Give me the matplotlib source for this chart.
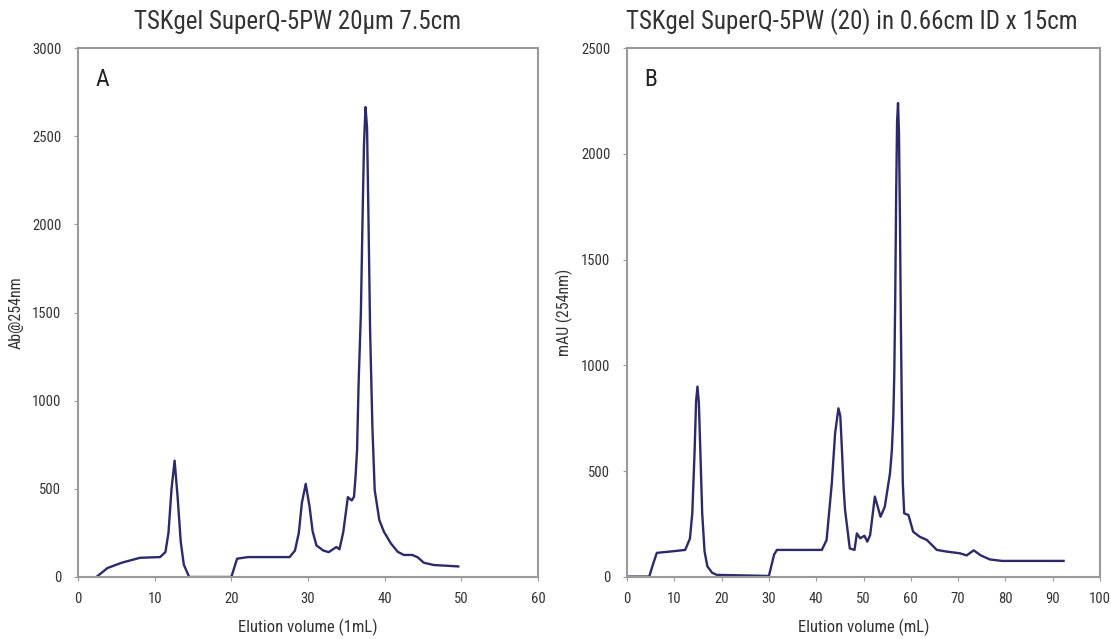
import matplotlib
matplotlib.use("Agg")
import matplotlib.pyplot as plt
from matplotlib import font_manager

# ---------------- data ----------------
a_x = [2.4, 3.85, 5.7, 8.1, 10.7, 11.4, 11.8, 12.2, 12.6, 13.0, 13.4, 13.8, 14.5, 20.0,
       20.75, 22.2, 27.6, 28.3, 28.8, 29.2, 29.7, 30.2, 30.6, 31.1, 32.0, 32.7, 33.7, 34.1,
       34.6, 35.2, 35.7, 36.0, 36.2, 36.4, 36.6, 36.9, 37.1, 37.3, 37.5, 37.7, 37.9,
       38.1, 38.4, 38.7, 39.3, 39.9, 40.8, 41.7, 42.5, 43.6, 44.3, 45.1, 46.4, 49.6]
a_y = [0, 51, 81, 109, 113, 141, 250, 500, 660, 450, 200, 70, 0, 0,
       104, 113, 113, 150, 250, 420, 528, 400, 260, 179, 150, 141, 170, 157,
       255, 453, 434, 455, 568, 720, 1098, 1500, 2000, 2450, 2665, 2550, 2000,
       1400, 850, 493, 323, 257, 191, 143, 125, 125, 112, 81, 68, 60]

b_x = [0, 4.7, 5.5, 6.3, 9.0, 12.3, 13.3, 13.8, 14.3, 14.6, 14.9, 15.2, 15.5, 15.9,
       16.4, 17.0, 18.0, 19.0, 30.0,
       31.1, 31.7, 41.2, 42.2, 43.3, 44.0, 44.7, 45.1, 45.4, 45.8, 46.1, 47.1, 48.1,
       48.6, 49.3, 50.2, 50.8, 51.4, 52.4, 53.6, 54.5, 55.6, 56.0, 56.3, 56.5, 56.7,
       56.9, 57.1, 57.3, 57.5, 57.7, 57.9, 58.1, 58.3, 58.6, 59.5, 60.5, 61.9, 63.4,
       65.5, 67.6, 70.4, 71.8, 73.3, 74.8, 76.7, 79.3, 92.3]
b_y = [2, 2, 60, 114, 120, 128, 181, 300, 600, 830, 900, 820, 600, 300,
       120, 50, 20, 10, 5,
       106, 128, 128, 175, 443, 680, 797, 760, 620, 420, 317, 135, 128,
       206, 183, 195, 167, 198, 380, 285, 332, 490, 600, 757, 950, 1300,
       1800, 2150, 2240, 2100, 1700, 1200, 800, 450, 301, 293, 214, 190, 175,
       128, 120, 112, 102, 126, 102, 83, 76, 76]

a_xticks = [0, 10, 20, 30, 40, 50, 60]
a_yticks = [0, 500, 1000, 1500, 2000, 2500, 3000]
b_xticks = [0, 10, 20, 30, 40, 50, 60, 70, 80, 90, 100]
b_yticks = [0, 500, 1000, 1500, 2000, 2500]

titles = ["TSKgel SuperQ-5PW 20µm 7.5cm", "TSKgel SuperQ-5PW (20) in 0.66cm ID x 15cm"]
xlabels = ["Elution volume (1mL)", "Elution volume (mL)"]
ylabels = ["Ab@254nm", "mAU (254nm)"]
panel_tags = ["A", "B"]

# ---------------- style ----------------
names = {f.name for f in font_manager.fontManager.ttflist}
fam = [n for n in ["Roboto Condensed", "Liberation Sans Narrow", "DejaVu Sans"] if n in names] or ["DejaVu Sans"]
plt.rcParams['font.family'] = fam

line_color = "#2c2a6b"
spine_color = "#9a9a9a"
text_color = "#333333"

fig = plt.figure(figsize=(11.11, 6.39), dpi=100)
axA = fig.add_axes([78/1111, 62/639, 460/1111, 529/639])
axB = fig.add_axes([627/1111, 62/639, 473/1111, 529/639])

title_x = [298/1111, 852/1111]

specs = [
    (axA, a_x, a_y, (0, 60), (0, 3000), a_xticks, a_yticks),
    (axB, b_x, b_y, (0, 100), (0, 2500), b_xticks, b_yticks),
]
for i, (ax, xs, ys, xl, yl, xt, yt) in enumerate(specs):
    ax.plot(xs, ys, color=line_color, lw=1.7, solid_joinstyle='round')
    ax.set_xlim(*xl)
    ax.set_ylim(*yl)
    ax.set_xticks(xt)
    ax.set_yticks(yt)
    for s in ax.spines.values():
        s.set_color(spine_color)
        s.set_linewidth(1.5)
    ax.tick_params(axis='both', direction='out', length=3, width=0.8,
                   color=spine_color, labelsize=10.5, labelcolor=text_color)
    ax.tick_params(axis='x', pad=8)
    ax.tick_params(axis='y', pad=9)
    fig.text(title_x[i], 1 - 22/639, titles[i], fontsize=18, color=text_color,
             ha='center', va='center')
    ax.set_xlabel(xlabels[i], fontsize=12, color=text_color, labelpad=9)
    ax.set_ylabel(ylabels[i], fontsize=11.5, color=text_color, labelpad=6)
    ax.text(0.037, 0.962, panel_tags[i], transform=ax.transAxes, fontsize=17,
            color="#222222", va='top', ha='left')

fig.savefig("out.png", dpi=100)
